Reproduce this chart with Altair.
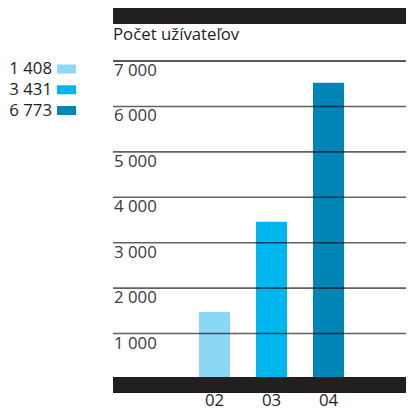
import altair as alt
import pandas as pd

# Data
years = ["02", "03", "04"]
bar_values = [1476, 3463, 6520]          # bar heights as drawn
legend_labels = ["1 408", "3 431", "6 773"]  # printed legend values
colors = ["#8dd7f7", "#00b6ef", "#0085b7"]
tick_values = [1000, 2000, 3000, 4000, 5000, 6000, 7000]
tick_labels = ["1 000", "2 000", "3 000", "4 000", "5 000", "6 000", "7 000"]
title_text = "Počet užívateľov"

W = 293
H = 318
FONT = "Open Sans"
FS = 16.8
DARK = "#231f20"

bars_df = pd.DataFrame({"year": years, "value": bar_values})
ticks_df = pd.DataFrame({"v": tick_values, "label": tick_labels,
                         "top": [v == 7000 for v in tick_values]})
legend_df = pd.DataFrame({"label": legend_labels, "year": years})
one = pd.DataFrame({"a": [0]})

yscale = alt.Scale(domain=[0, 7000], nice=False, zero=True)
color_scale = alt.Scale(domain=years, range=colors)

bars = alt.Chart(bars_df).mark_bar().encode(
    x=alt.X("year:N", sort=years,
            scale=alt.Scale(range=[86, 231], paddingInner=0.456, paddingOuter=0),
            axis=alt.Axis(title=None, domain=False, ticks=False, labelAngle=0,
                          labelFont=FONT, labelFontSize=FS, labelColor=DARK,
                          labelPadding=13)),
    y=alt.Y("value:Q", scale=yscale, axis=None),
    color=alt.Color("year:N", scale=color_scale, legend=None),
)

grid = alt.Chart(ticks_df).mark_rule().encode(
    y=alt.Y("v:Q", scale=yscale, axis=None),
    x=alt.value(0), x2=alt.value(W),
    stroke=alt.condition("datum.top", alt.value("#231f20"), alt.value("#000000")),
    strokeOpacity=alt.condition("datum.top", alt.value(1.0), alt.value(0.62)),
    strokeWidth=alt.condition("datum.top", alt.value(1.4), alt.value(1.6)),
)

tick_text = alt.Chart(ticks_df).mark_text(
    align="left", baseline="alphabetic", dy=15, dx=1,
    font=FONT, fontSize=FS, color="#3a3a3a"
).encode(
    y=alt.Y("v:Q", scale=yscale, axis=None),
    x=alt.value(0),
    text="label:N",
)

top_bar = alt.Chart(one).mark_rect(color=DARK).encode(
    x=alt.value(0), x2=alt.value(W), y=alt.value(-53), y2=alt.value(-37)
)
bottom_bar = alt.Chart(one).mark_rect(color=DARK).encode(
    x=alt.value(0), x2=alt.value(W), y=alt.value(316), y2=alt.value(332)
)

title = alt.Chart(one).mark_text(
    align="left", baseline="alphabetic", font=FONT, fontSize=FS, color=DARK
).encode(x=alt.value(0), y=alt.value(-21), text=alt.value(title_text))

legend_y = alt.Y("label:N", sort=legend_labels,
                 scale=alt.Scale(type="point", range=[8, 49.5], padding=0), axis=None)

legend_sw = alt.Chart(legend_df).mark_point(
    shape="M-1,-0.474L1,-0.474L1,0.474L-1,0.474Z", filled=True, size=361,
    opacity=1, strokeWidth=0
).encode(
    x=alt.value(-46.5),
    y=legend_y,
    color=alt.Color("year:N", scale=color_scale, legend=None),
)

legend_txt = alt.Chart(legend_df).mark_text(
    align="right", baseline="middle", font=FONT, fontSize=FS, color=DARK
).encode(
    x=alt.value(-61),
    y=legend_y,
    text="label:N",
)

chart = alt.layer(
    bars, grid, tick_text, top_bar, bottom_bar, title, legend_sw, legend_txt
).resolve_scale(y="independent").properties(
    width=W, height=H,
    autosize=alt.AutoSizeParams(type="none"),
    padding={"left": 105, "top": 53, "right": 0, "bottom": 30},
).configure_view(stroke=None)

chart.save("out.html", embed_options={"renderer": "svg", "actions": False})
